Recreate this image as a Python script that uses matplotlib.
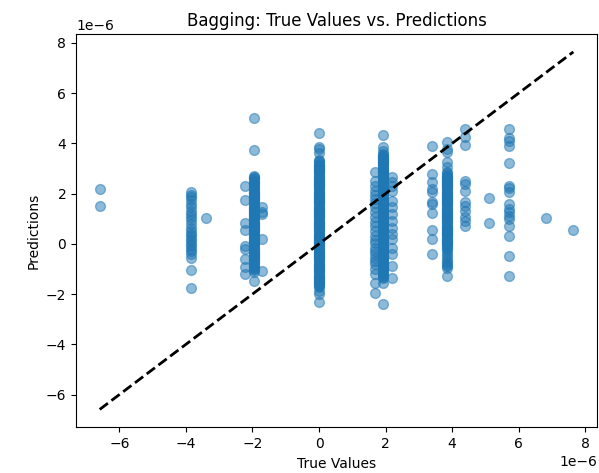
import numpy as np
import matplotlib
matplotlib.use("Agg")
import matplotlib.pyplot as plt

scale = 1e-6

# True-value columns (x, in units of 1e-6) and the predictions read for each
col_x = [-6.59, -3.85, -3.40, -2.22, -1.94, -1.71, 0.0, 1.69, 1.92, 2.19,
         3.38, 3.83, 4.38, 5.10, 5.72, 6.81, 7.64]

col_y = [
    [2.19, 1.49],
    [2.05, 1.95, 1.88, 1.75, 1.59, 1.45, 1.30, 1.19, 1.05, 0.95, 0.80, 0.65,
     0.52, 0.40, 0.32, 0.20, 0.12, 0.00, -0.08, -0.20, -0.28, -0.40, -0.57,
     -1.04, -1.77],
    [1.01],
    [2.32, 1.76, 0.81, 0.55, -0.08, -0.19, -0.61, -0.91, -1.19],
    [4.99, 3.75, 2.72, 2.66, 2.62, 2.57, 2.52, 2.47, 2.42, 2.37, 2.33, 2.28,
     2.22, 2.17, 2.12, 2.08, 2.03, 1.99, 1.95, 1.90, 1.86, 1.82, 1.78, 1.74,
     1.70, 1.65, 1.61, 1.56, 1.52, 1.48, 1.44, 1.39, 1.35, 1.31, 1.27, 1.22,
     1.18, 1.14, 1.10, 1.05, 1.01, 0.97, 0.93, 0.88, 0.84, 0.80, 0.76, 0.71,
     0.67, 0.63, 0.58, 0.54, 0.50, 0.46, 0.41, 0.37, 0.33, 0.29, 0.24, 0.20,
     0.16, 0.11, 0.07, 0.03, -0.02, -0.06, -0.10, -0.15, -0.19, -0.23,
     -0.27, -0.32, -0.36, -0.40, -0.44, -0.49, -0.53, -0.57, -0.61, -0.66,
     -0.70, -0.74, -0.78, -0.83, -0.87, -0.91, -0.95, -1.00, -1.05, -1.12,
     -1.48],
    [1.48, 1.28, 1.19, 0.19, -1.10],
    [4.41, 3.85, 3.78, 3.60, 3.32, 3.28, 3.24, 3.19, 3.15, 3.11, 3.06, 3.02,
     2.98, 2.94, 2.90, 2.85, 2.81, 2.77, 2.72, 2.68, 2.64, 2.60, 2.55, 2.51,
     2.47, 2.43, 2.38, 2.34, 2.30, 2.25, 2.21, 2.17, 2.12, 2.08, 2.04, 2.00,
     1.95, 1.91, 1.87, 1.82, 1.78, 1.74, 1.70, 1.65, 1.61, 1.57, 1.52, 1.48,
     1.44, 1.40, 1.35, 1.31, 1.27, 1.22, 1.18, 1.14, 1.10, 1.05, 1.01, 0.97,
     0.92, 0.88, 0.84, 0.80, 0.75, 0.71, 0.67, 0.62, 0.58, 0.54, 0.50, 0.45,
     0.41, 0.37, 0.32, 0.28, 0.24, 0.20, 0.15, 0.11, 0.07, 0.02, -0.02,
     -0.06, -0.10, -0.15, -0.19, -0.23, -0.28, -0.32, -0.36, -0.40, -0.45,
     -0.49, -0.53, -0.58, -0.62, -0.66, -0.70, -0.75, -0.79, -0.83, -0.88,
     -0.92, -0.96, -1.00, -1.05, -1.09, -1.13, -1.18, -1.22, -1.26, -1.30,
     -1.35, -1.39, -1.43, -1.48, -1.52, -1.56, -1.60, -1.65, -1.69, -1.73,
     -1.88, -2.00, -2.32],
    [2.85, 2.52, 2.30, 2.12, 1.95, 1.79, 1.62, 1.45, 1.25, 1.05, 0.85, 0.70,
     0.52, 0.32, 0.15, 0.05, -0.15, -0.28, -0.41, -0.55, -0.70, -0.81, -1.00,
     -1.21, -1.57, -1.95],
    [4.32, 3.85, 3.70, 3.59, 3.55, 3.50, 3.46, 3.42, 3.38, 3.33, 3.29, 3.25,
     3.20, 3.16, 3.12, 3.08, 3.03, 2.99, 2.95, 2.91, 2.86, 2.82, 2.78, 2.74,
     2.69, 2.65, 2.61, 2.57, 2.52, 2.48, 2.44, 2.40, 2.35, 2.31, 2.27, 2.23,
     2.18, 2.14, 2.10, 2.06, 2.01, 1.97, 1.93, 1.89, 1.84, 1.80, 1.76, 1.72,
     1.67, 1.63, 1.59, 1.55, 1.50, 1.46, 1.42, 1.38, 1.33, 1.29, 1.25, 1.21,
     1.16, 1.12, 1.08, 1.04, 0.99, 0.95, 0.91, 0.87, 0.82, 0.78, 0.74, 0.70,
     0.65, 0.61, 0.57, 0.53, 0.48, 0.44, 0.40, 0.36, 0.31, 0.27, 0.23, 0.19,
     0.14, 0.10, 0.06, 0.02, -0.03, -0.07, -0.11, -0.15, -0.20, -0.24,
     -0.28, -0.32, -0.37, -0.41, -0.45, -0.49, -0.54, -0.58, -0.62, -0.66,
     -0.71, -0.75, -0.79, -0.83, -0.88, -0.92, -0.96, -1.00, -1.05, -1.09,
     -1.13, -1.17, -1.22, -1.26, -1.30, -1.35, -1.55, -2.41],
    [2.65, 2.45, 2.32, 2.12, 1.72, 1.45, 1.19, 0.92, 0.65, 0.39, 0.19, -0.15,
     -0.41, -0.88, -1.35],
    [3.89, 2.79, 2.45, 2.19, 2.05, 1.65, 1.59, 1.21, 0.55, 0.19, -0.41],
    [4.05, 3.79, 3.65, 3.25, 3.05, 2.85, 2.81, 2.76, 2.72, 2.68, 2.63, 2.59,
     2.55, 2.51, 2.46, 2.42, 2.38, 2.34, 2.29, 2.25, 2.21, 2.17, 2.12, 2.08,
     2.04, 2.00, 1.95, 1.91, 1.87, 1.83, 1.78, 1.74, 1.70, 1.66, 1.61, 1.57,
     1.53, 1.49, 1.44, 1.40, 1.36, 1.32, 1.27, 1.23, 1.19, 1.15, 1.10, 1.06,
     1.02, 0.98, 0.93, 0.89, 0.85, 0.81, 0.76, 0.72, 0.68, 0.64, 0.59, 0.55,
     0.51, 0.47, 0.42, 0.38, 0.34, 0.30, 0.25, 0.21, 0.17, 0.13, 0.08, 0.04,
     0.00, -0.04, -0.09, -0.15, -0.21, -0.28, -0.40, -0.48, -0.60, -0.68,
     -0.75, -0.85, -0.90, -0.95, -1.28],
    [4.59, 4.25, 3.92, 2.52, 2.39, 2.12, 1.65, 1.52, 1.32, 1.05, 0.92, 0.72],
    [1.81, 0.83],
    [4.59, 4.21, 4.08, 3.89, 3.21, 2.32, 2.21, 2.08, 1.59, 1.39, 1.25, 1.12,
     0.99, 0.72, 0.32, -0.48, -1.28],
    [1.01],
    [0.55],
]

y_true = np.concatenate([[x] * len(ys) for x, ys in zip(col_x, col_y)]) * scale
y_pred = np.concatenate([np.array(ys) for ys in col_y]) * scale

fig = plt.figure(figsize=(5.99, 4.73), dpi=100)
ax = fig.add_axes([0.1269, 0.0966, 0.8698, 0.8315])
ax.scatter(y_true, y_pred, alpha=0.5, s=50)
lo, hi = y_true.min(), y_true.max()
ax.plot([lo, hi], [lo, hi], 'k--', lw=2)
ax.set_xlabel('True Values')
ax.set_ylabel('Predictions')
ax.set_title('Bagging: True Values vs. Predictions')
fig.savefig('out.png', dpi=100)
